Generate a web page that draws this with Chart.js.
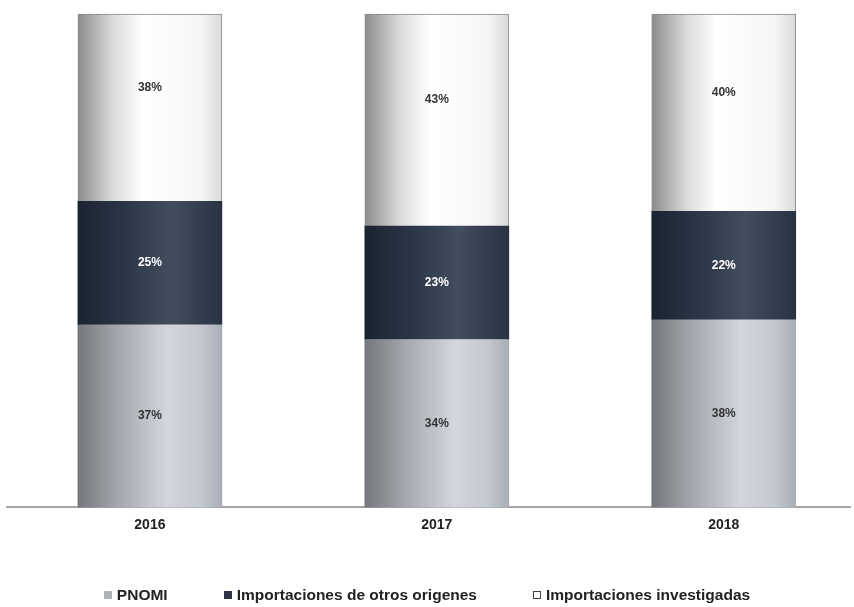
<!DOCTYPE html>
<html>
<head>
<meta charset="utf-8">
<script src="https://cdn.jsdelivr.net/npm/chart.js@4"></script>
<style>
  html, body { margin: 0; padding: 0; background: #fff; }
  #wrap { position: relative; width: 854px; height: 607px; }
  #legend {
    position: absolute; left: 0; width: 854px; top: 586px;
    display: flex; justify-content: center; gap: 56px;
    font: bold 15.5px "Liberation Sans", Arial, sans-serif; color: #222;
  }
  #legend span.item { display: flex; align-items: center; }
  #legend i { display: inline-block; width: 8px; height: 8px; margin-right: 5px; box-sizing: border-box; }
</style>
</head>
<body>
<div id="wrap">
  <canvas id="chart" width="854" height="607"></canvas>
  <div id="legend"></div>
</div>
<script>
// datos
const categories = ['2016', '2017', '2018'];
const pnomi = [37, 34, 38];
const otrosOrigenes = [25, 23, 22];
const investigadas = [38, 43, 40];

// degradado tipo cilindro para cada barra
const cylinder = (stops, fallback) => (ctx) => {
  const chart = ctx.chart;
  if (!chart.chartArea || !chart.scales.x) return fallback;
  const x = chart.scales.x.getPixelForValue(ctx.dataIndex);
  const g = chart.ctx.createLinearGradient(x - 72, 0, x + 72, 0);
  stops.forEach(([p, c]) => g.addColorStop(p, c));
  return g;
};

const grisStops = [[0, '#74777b'], [0.3, '#a7aab0'], [0.62, '#d3d6dc'], [0.85, '#c4c8cf'], [1, '#a9adb5']];
const azulStops = [[0, '#1a2331'], [0.35, '#2c3748'], [0.65, '#424d5e'], [1, '#283242']];
const blancoStops = [[0, '#8c8c8c'], [0.25, '#dcdcdc'], [0.45, '#ffffff'], [0.85, '#f6f6f6'], [1, '#d9d9d9']];

const toPoints = (arr) => arr.map((v, i) => ({ x: i, y: v }));

const series = [
  { label: 'PNOMI', values: pnomi, bg: cylinder(grisStops, '#b5b8bd'), swatch: '#b0b3b8', text: '#333', dy: 0, border: 0 },
  { label: 'Importaciones de otros origenes', values: otrosOrigenes, bg: cylinder(azulStops, '#2f3a4a'), swatch: '#2b3545', text: '#fff', dy: 0, border: 0 },
  { label: 'Importaciones investigadas', values: investigadas, bg: cylinder(blancoStops, '#fff'), swatch: '#fff', text: '#333', dy: -20, border: 1 },
];

// etiquetas dentro de las barras
const valueLabels = {
  id: 'valueLabels',
  afterDatasetsDraw(chart) {
    const ctx = chart.ctx;
    ctx.save();
    ctx.font = 'bold 12px "Liberation Sans", Arial, sans-serif';
    ctx.textAlign = 'center';
    ctx.textBaseline = 'middle';
    chart.data.datasets.forEach((ds, di) => {
      chart.getDatasetMeta(di).data.forEach((bar, i) => {
        const mid = (bar.y + bar.base) / 2 + series[di].dy;
        ctx.fillStyle = series[di].text;
        ctx.fillText(ds.data[i].y + '%', bar.x, mid);
      });
    });
    ctx.restore();
  }
};

new Chart(document.getElementById('chart'), {
  type: 'bar',
  data: {
    datasets: series.map(s => ({
      label: s.label,
      data: toPoints(s.values),
      backgroundColor: s.bg,
      borderColor: '#8a8a8a',
      borderWidth: s.border,
      barThickness: 144,
      clip: false,
    }))
  },
  options: {
    responsive: false,
    animation: false,
    layout: { padding: { top: 14, left: 7, right: 4, bottom: 71 } },
    plugins: { legend: { display: false }, tooltip: { enabled: false } },
    scales: {
      x: {
        type: 'linear',
        stacked: true,
        offset: false,
        min: -0.498,
        max: 2.44,
        afterBuildTicks: (scale) => { scale.ticks = categories.map((c, i) => ({ value: i })); },
        ticks: {
          callback: (v) => categories[v],
          font: { family: '"Liberation Sans", Arial, sans-serif', size: 14, weight: 'bold' },
          color: '#222',
          padding: 2,
          maxRotation: 0,
        },
        grid: { display: false },
        border: { display: true, color: '#a5a5a5', width: 2 },
      },
      y: {
        stacked: true,
        min: 0,
        max: 100,
        display: false,
      }
    }
  },
  plugins: [valueLabels]
});

// leyenda
const legend = document.getElementById('legend');
series.forEach(s => {
  const item = document.createElement('span');
  item.className = 'item';
  const box = document.createElement('i');
  box.style.background = s.swatch;
  if (s.border) box.style.border = '1px solid #444';
  item.appendChild(box);
  item.appendChild(document.createTextNode(s.label));
  legend.appendChild(item);
});
</script>
</body>
</html>
